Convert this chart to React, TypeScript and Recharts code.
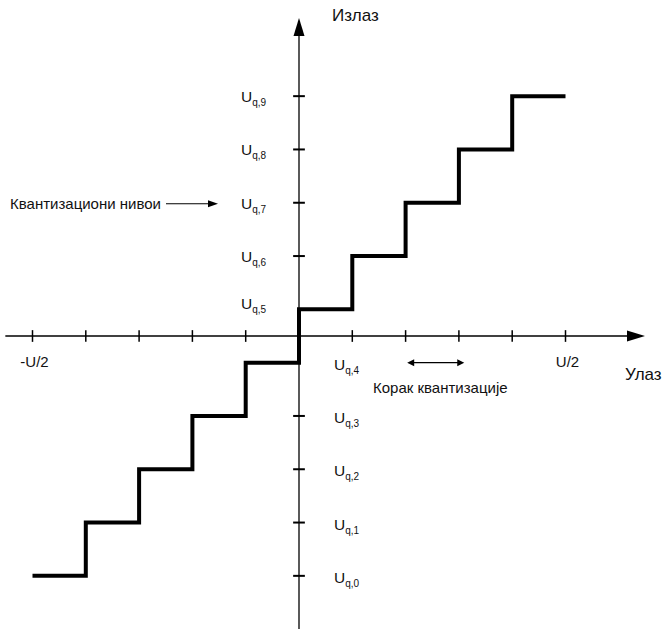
import React from "react";
import { LineChart, Line, XAxis, YAxis, ReferenceLine, ReferenceDot } from "recharts";

// quantizer transfer characteristic: input step edges and output levels
const inputs = [-5, -4, -3, -2, -1, 0, 1, 2, 3, 4, 5];
const outputs = [-4.5, -3.5, -2.5, -1.5, -0.5, 0.5, 1.5, 2.5, 3.5, 4.5, 4.5];

const levels = [-4.5, -3.5, -2.5, -1.5, -0.5, 0.5, 1.5, 2.5, 3.5, 4.5];
const levelSubs = ["q,0", "q,1", "q,2", "q,3", "q,4", "q,5", "q,6", "q,7", "q,8", "q,9"];
const xTicks = [-5, -4, -3, -2, -1, 1, 2, 3, 4, 5];
const rangeLabels = [
  { x: -5, text: "-U/2" },
  { x: 5, text: "U/2" },
];

const data = inputs.map((x, i) => ({ x, y: outputs[i] }));

const W = 666;
const H = 629;
const OX = 299;
const OY = 336;
const UNIT = 53.3;
const X_DOMAIN = [-OX / UNIT, (W - OX) / UNIT];
const Y_DOMAIN = [-(H - OY) / UNIT, OY / UNIT];

const FONT = "'Liberation Sans', Arial, sans-serif";

const ArrowLine = (props: any) => {
  const { x1, y1, x2, y2 } = props;
  const dx = x2 - x1;
  const dy = y2 - y1;
  const len = Math.hypot(dx, dy);
  const ux = dx / len;
  const uy = dy / len;
  const L = 18;
  const hw = 5.5;
  const bx = x2 - ux * L;
  const by = y2 - uy * L;
  return (
    <g>
      <line x1={x1} y1={y1} x2={bx + ux * 2} y2={by + uy * 2} stroke="#000" strokeWidth={1.3} />
      <polygon
        points={`${x2},${y2} ${bx - uy * hw},${by + ux * hw} ${bx + uy * hw},${by - ux * hw}`}
        fill="#000"
      />
    </g>
  );
};

const DoubleArrow = (props: any) => {
  const { x1, y1, x2 } = props;
  const y = y1;
  return (
    <g>
      <line x1={x1 + 4} y1={y} x2={x2 - 4} y2={y} stroke="#000" strokeWidth={1.2} />
      <polygon points={`${x1},${y} ${x1 + 7},${y - 3.5} ${x1 + 7},${y + 3.5}`} fill="#000" />
      <polygon points={`${x2},${y} ${x2 - 7},${y - 3.5} ${x2 - 7},${y + 3.5}`} fill="#000" />
    </g>
  );
};

const LevelLabel = (props: any) => {
  const { cx, cy, idx } = props;
  const left = idx >= 5;
  const dy = idx === 5 ? 0 : idx === 4 ? 7 : left ? 6 : 7;
  return (
    <text x={left ? cx - 58 : cx + 35} y={cy + dy} fontSize={15.5} fontFamily={FONT} fill="#111">
      U
      <tspan fontSize={10} dy={4}>
        {levelSubs[idx]}
      </tspan>
    </text>
  );
};

const RangeLabel = (props: any) => {
  const { cx, cy, text } = props;
  return (
    <text x={cx + 2} y={cy + 31} textAnchor="middle" fontSize={15} fontFamily={FONT} fill="#111">
      {text}
    </text>
  );
};

const NoteLevels = (props: any) => {
  const { cy } = props;
  const y = cy + 1;
  return (
    <g>
      <text x={10} y={y + 5.5} fontSize={15} fontFamily={FONT} fill="#111">
        Квантизациони нивои
      </text>
      <line x1={166} y1={y} x2={210} y2={y} stroke="#000" strokeWidth={1.2} />
      <polygon points={`218,${y} 208,${y - 3.5} 208,${y + 3.5}`} fill="#000" />
    </g>
  );
};

export default function App() {
  return (
    <div style={{ position: "absolute", left: 0, top: 0, background: "#fff" }}>
      <LineChart width={W} height={H} data={data} margin={{ top: 0, right: 0, bottom: 0, left: 0 }}>
        <XAxis dataKey="x" type="number" domain={X_DOMAIN} allowDataOverflow hide />
        <YAxis type="number" domain={Y_DOMAIN} allowDataOverflow hide />

        <ReferenceLine
          segment={[
            { x: X_DOMAIN[0] + 0.1, y: 0 },
            { x: (645 - OX) / UNIT, y: 0 },
          ]}
          shape={ArrowLine}
        />
        <ReferenceLine
          segment={[
            { x: 0, y: Y_DOMAIN[0] },
            { x: 0, y: (OY - 18) / UNIT },
          ]}
          shape={ArrowLine}
        />

        {xTicks.map((t) => (
          <ReferenceLine
            key={"xt" + t}
            segment={[
              { x: t, y: -0.11 },
              { x: t, y: 0.11 },
            ]}
            stroke="#000"
            strokeWidth={1.5}
          />
        ))}
        {levels
          .filter((l) => Math.abs(l) > 1)
          .map((l) => (
            <ReferenceLine
              key={"yt" + l}
              segment={[
                { x: -0.11, y: l },
                { x: 0.11, y: l },
              ]}
              stroke="#000"
              strokeWidth={2}
            />
          ))}

        <Line
          dataKey="y"
          type="stepAfter"
          stroke="#000"
          strokeWidth={4}
          strokeLinecap="butt"
          strokeLinejoin="miter"
          dot={false}
          activeDot={false}
          isAnimationActive={false}
        />

        {levels.map((l, i) => (
          <ReferenceDot
            key={"lbl" + i}
            x={0}
            y={l}
            r={0}
            shape={(p: any) => <LevelLabel {...p} idx={i} />}
          />
        ))}
        {rangeLabels.map((r) => (
          <ReferenceDot
            key={r.text}
            x={r.x}
            y={0}
            r={0}
            shape={(p: any) => <RangeLabel {...p} text={r.text} />}
          />
        ))}
        <ReferenceDot x={0} y={levels[7]} r={0} shape={NoteLevels} />
        <ReferenceLine
          segment={[
            { x: 2.03, y: levels[4] },
            { x: 3.1, y: levels[4] },
          ]}
          shape={DoubleArrow}
        />

        <text x={373} y={392.5} fontSize={15} fontFamily={FONT} fill="#111">
          Корак квантизације
        </text>
        <text x={625} y={380} fontSize={17} fontFamily={FONT} fill="#111">
          Улаз
        </text>
        <text x={332} y={21} fontSize={17} fontFamily={FONT} fill="#111">
          Излаз
        </text>
      </LineChart>
    </div>
  );
}
